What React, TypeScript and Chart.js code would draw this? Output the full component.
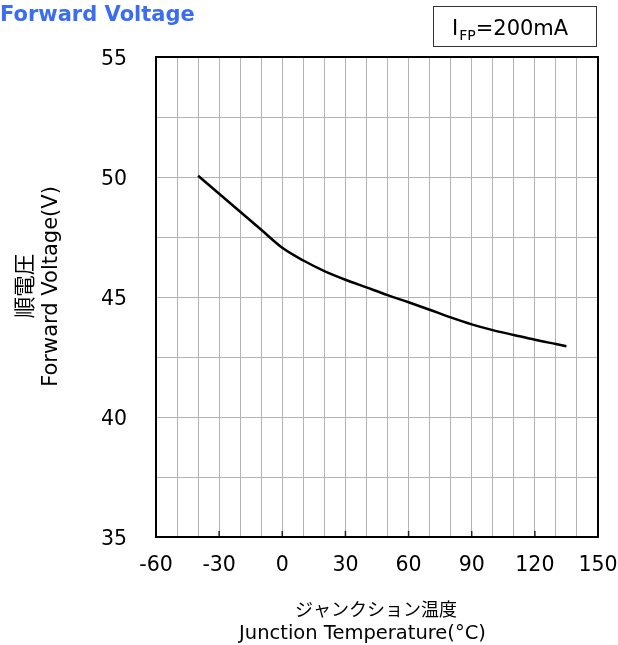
import React, { useEffect, useRef } from "react";
import { Chart, registerables } from "chart.js";

Chart.register(...registerables);

const temperatures = [-40, -30, -20, -10, 0, 10, 20, 30, 40, 50, 60, 70, 80, 90, 100, 110, 120, 130, 135];
const forwardVoltages = [50.05, 49.3, 48.55, 47.8, 47.05, 46.52, 46.08, 45.72, 45.4, 45.08, 44.78, 44.47, 44.15, 43.86, 43.62, 43.42, 43.22, 43.04, 42.95];
const xTickLabels = [-60, -30, 0, 30, 60, 90, 120, 150];
const yTickLabels = [35, 40, 45, 50, 55];

const titleText = "Forward Voltage";
const yTitleLines = ["順電圧", "Forward Voltage(V)"];
const xTitleLines = ["ジャンクション温度", "Junction Temperature(°C)"];

const FONT = "'DejaVu Sans', Verdana, sans-serif";
const CJK = "'Noto Sans CJK JP', 'DejaVu Sans', sans-serif";

const decorPlugin = {
  id: "decor",
  afterDraw(chart: any) {
    const { ctx, chartArea } = chart;
    const xs = chart.scales.x;
    ctx.save();
    ctx.strokeStyle = "#222";
    ctx.lineWidth = 1.5;
    xTickLabels.forEach((v) => {
      const px = xs.getPixelForValue(v);
      ctx.beginPath();
      ctx.moveTo(px, chartArea.bottom);
      ctx.lineTo(px, chartArea.bottom - 6);
      ctx.stroke();
    });
    ctx.strokeStyle = "#000";
    ctx.lineWidth = 2;
    ctx.strokeRect(chartArea.left, chartArea.top, chartArea.right - chartArea.left, chartArea.bottom - chartArea.top);

    ctx.fillStyle = "#3a6cf4";
    ctx.font = `bold 21px ${FONT}`;
    ctx.textAlign = "left";
    ctx.textBaseline = "alphabetic";
    ctx.fillText(titleText, 0, 21);

    ctx.strokeStyle = "#333";
    ctx.lineWidth = 1;
    ctx.strokeRect(433.5, 6.5, 163, 40);
    ctx.fillStyle = "#000";
    ctx.font = `21px ${FONT}`;
    ctx.fillText("I", 452, 35);
    const iw = ctx.measureText("I").width;
    ctx.font = `14px ${FONT}`;
    ctx.fillText("FP", 452 + iw + 1, 40);
    const fw = ctx.measureText("FP").width;
    ctx.font = `21px ${FONT}`;
    ctx.fillText("=200mA", 452 + iw + 1 + fw, 35);

    ctx.textAlign = "center";
    ctx.textBaseline = "middle";
    ctx.font = `18px ${CJK}`;
    ctx.fillText(xTitleLines[0], 376, 609);
    ctx.font = `19.5px ${FONT}`;
    ctx.fillText(xTitleLines[1], 362.5, 634);

    ctx.save();
    ctx.translate(24, 286);
    ctx.rotate(-Math.PI / 2);
    ctx.font = `21.5px ${CJK}`;
    ctx.fillText(yTitleLines[0], 0, 0);
    ctx.restore();
    ctx.save();
    ctx.translate(52, 286.5);
    ctx.rotate(-Math.PI / 2);
    ctx.font = `21px ${FONT}`;
    ctx.fillText(yTitleLines[1], 0, 0);
    ctx.restore();

    ctx.restore();
  },
};

export default function App() {
  const canvasRef = useRef<HTMLCanvasElement | null>(null);

  useEffect(() => {
    if (!canvasRef.current) return;
    const points = temperatures.map((t, i) => ({ x: t, y: forwardVoltages[i] }));
    const chart = new Chart(canvasRef.current, {
      type: "line",
      data: {
        datasets: [
          {
            data: points,
            borderColor: "#000",
            borderWidth: 2.5,
            pointRadius: 0,
            fill: false,
            cubicInterpolationMode: "monotone",
          },
        ],
      },
      options: {
        responsive: false,
        animation: false,
        layout: { padding: { top: 57, right: 20, left: 0, bottom: 0 } },
        plugins: { legend: { display: false }, tooltip: { enabled: false }, title: { display: false } },
        scales: {
          x: {
            type: "linear",
            min: -60,
            max: 150,
            afterFit: (s: any) => {
              s.height = 108;
              s.paddingLeft = 0;
              s.paddingRight = 0;
              s.paddingTop = 0;
              s.paddingBottom = 0;
            },
            grid: { color: "#b3b3b3", lineWidth: 1, drawTicks: false },
            border: { display: false },
            ticks: {
              stepSize: 10,
              autoSkip: false,
              maxRotation: 0,
              padding: 16,
              color: "#000",
              font: { family: FONT, size: 20.5 },
              callback: (v: any) => (xTickLabels.includes(Number(v)) ? String(v) : ""),
            },
          },
          y: {
            type: "linear",
            min: 35,
            max: 55,
            afterFit: (s: any) => {
              s.width = 156;
              s.paddingLeft = 0;
              s.paddingRight = 0;
              s.paddingTop = 0;
              s.paddingBottom = 0;
            },
            grid: { color: "#b3b3b3", lineWidth: 1, drawTicks: false },
            border: { display: false },
            ticks: {
              stepSize: 2.5,
              autoSkip: false,
              padding: 29,
              labelOffset: 3,
              color: "#000",
              font: { family: FONT, size: 20.5 },
              callback: (v: any) => (yTickLabels.includes(Number(v)) ? String(v) : ""),
            },
          },
        },
      },
      plugins: [decorPlugin],
    } as any);
    return () => chart.destroy();
  }, []);

  return (
    <div style={{ position: "fixed", left: 0, top: 0, width: 618, height: 645, background: "#fff" }}>
      <canvas ref={canvasRef} width={618} height={645} style={{ width: 618, height: 645, display: "block" }} />
    </div>
  );
}
